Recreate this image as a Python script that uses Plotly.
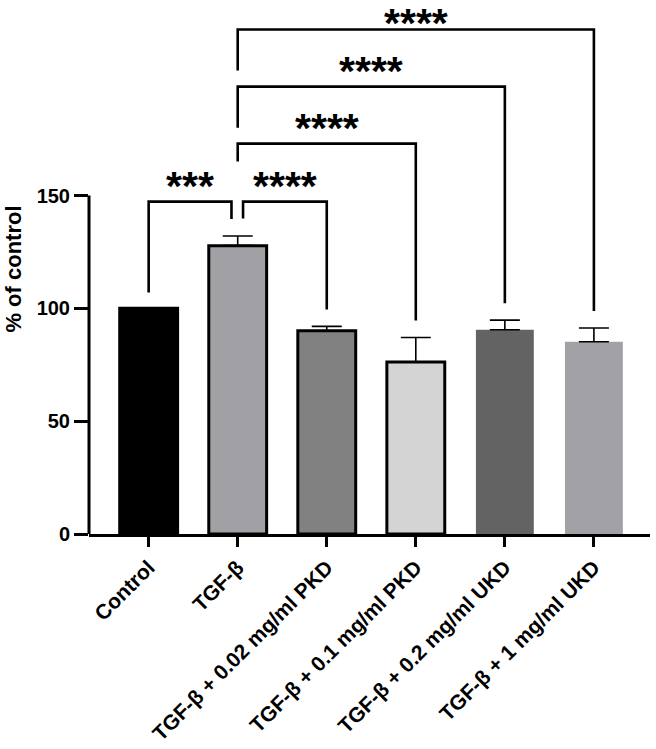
import plotly.graph_objects as go

categories = ["Control", "TGF-β", "TGF-β + 0.02 mg/ml PKD", "TGF-β + 0.1 mg/ml PKD",
              "TGF-β + 0.2 mg/ml UKD", "TGF-β + 1 mg/ml UKD"]
values = [100, 127.8, 90.1, 76.2, 90.5, 85.2]
errors = [0, 4.3, 1.9, 10.9, 4.3, 6.1]
colors = ["#000000", "#a1a1a5", "#818181", "#d4d4d4", "#636363", "#a2a2a6"]
outline_w = [3, 3, 3, 3, 0, 0]

# comparisons: (group a, group b, label)
comparisons = [
    (0, 1, "***"),
    (1, 2, "****"),
    (1, 3, "****"),
    (1, 4, "****"),
    (1, 5, "****"),
]
# layout of brackets (heights in axis units)
bracket_y = [147.3, 147.3, 173.0, 198.3, 223.6]
left_leg_end = [107.0, 139.8, 165.1, 180.1, 205.4]
left_x_off = [0, 0.06, 0, 0, 0]
right_x_off = [-0.07, 0, 0, 0, 0]
label_shift = [-9, -9, -9, -9, -19]

x = list(range(len(categories)))

fig = go.Figure()
fig.add_trace(go.Bar(
    x=x, y=values, width=0.65,
    marker=dict(color=colors, line=dict(color="black", width=outline_w)),
    error_y=dict(type="data", array=errors, arrayminus=[0]*len(errors), symmetric=False,
                 color="black", thickness=1.6, width=15),
    showlegend=False,
))

shapes = []
annotations = []
for i, (a, b, lab) in enumerate(comparisons):
    y = bracket_y[i]
    xa = a + left_x_off[i]
    xb = b + right_x_off[i]
    right_end = values[b] + errors[b] + 7.5
    shapes.append(dict(type="path", xref="x", yref="y",
                       path=f"M {xa},{left_leg_end[i]} L {xa},{y} L {xb},{y} L {xb},{right_end}",
                       line=dict(color="black", width=2.6)))
    annotations.append(dict(x=(xa + xb) / 2, y=y, xref="x", yref="y", text=lab,
                            showarrow=False, yanchor="bottom", yshift=label_shift[i],
                            font=dict(family="Liberation Sans, Arial", size=41, color="black", weight="bold")))

# y-axis line only from 0 to 150
shapes.append(dict(type="line", xref="paper", yref="y", x0=0, x1=0, y0=0, y1=150,
                   line=dict(color="black", width=3)))

fig.update_layout(
    width=656, height=749,
    margin=dict(l=89, r=6, t=4, b=215),
    plot_bgcolor="white", paper_bgcolor="white",
    shapes=shapes, annotations=annotations,
    font=dict(family="Liberation Sans, Arial", color="black"),
    bargap=0.35,
)
fig.update_xaxes(
    range=[-0.67, 5.63], tickmode="array", tickvals=x, ticktext=categories,
    tickangle=-45, ticks="outside", ticklen=10, tickwidth=3, tickcolor="black",
    showline=True, linewidth=3, linecolor="black", showgrid=False, zeroline=False,
    tickfont=dict(size=21, weight="bold", color="black"),
)
fig.update_yaxes(
    range=[0, 234.9], tickmode="array", tickvals=[0, 50, 100, 150],
    ticks="outside", ticklen=14, tickwidth=3, tickcolor="black",
    showline=False, showgrid=False, zeroline=False,
    tickfont=dict(size=20, weight="bold", color="black"),
    title=dict(text="% of control", font=dict(size=22, weight="bold", color="black"), standoff=8),
)

fig.write_html("out.html", post_script="document.body.style.margin='0';",
               config={"displayModeBar": False})
